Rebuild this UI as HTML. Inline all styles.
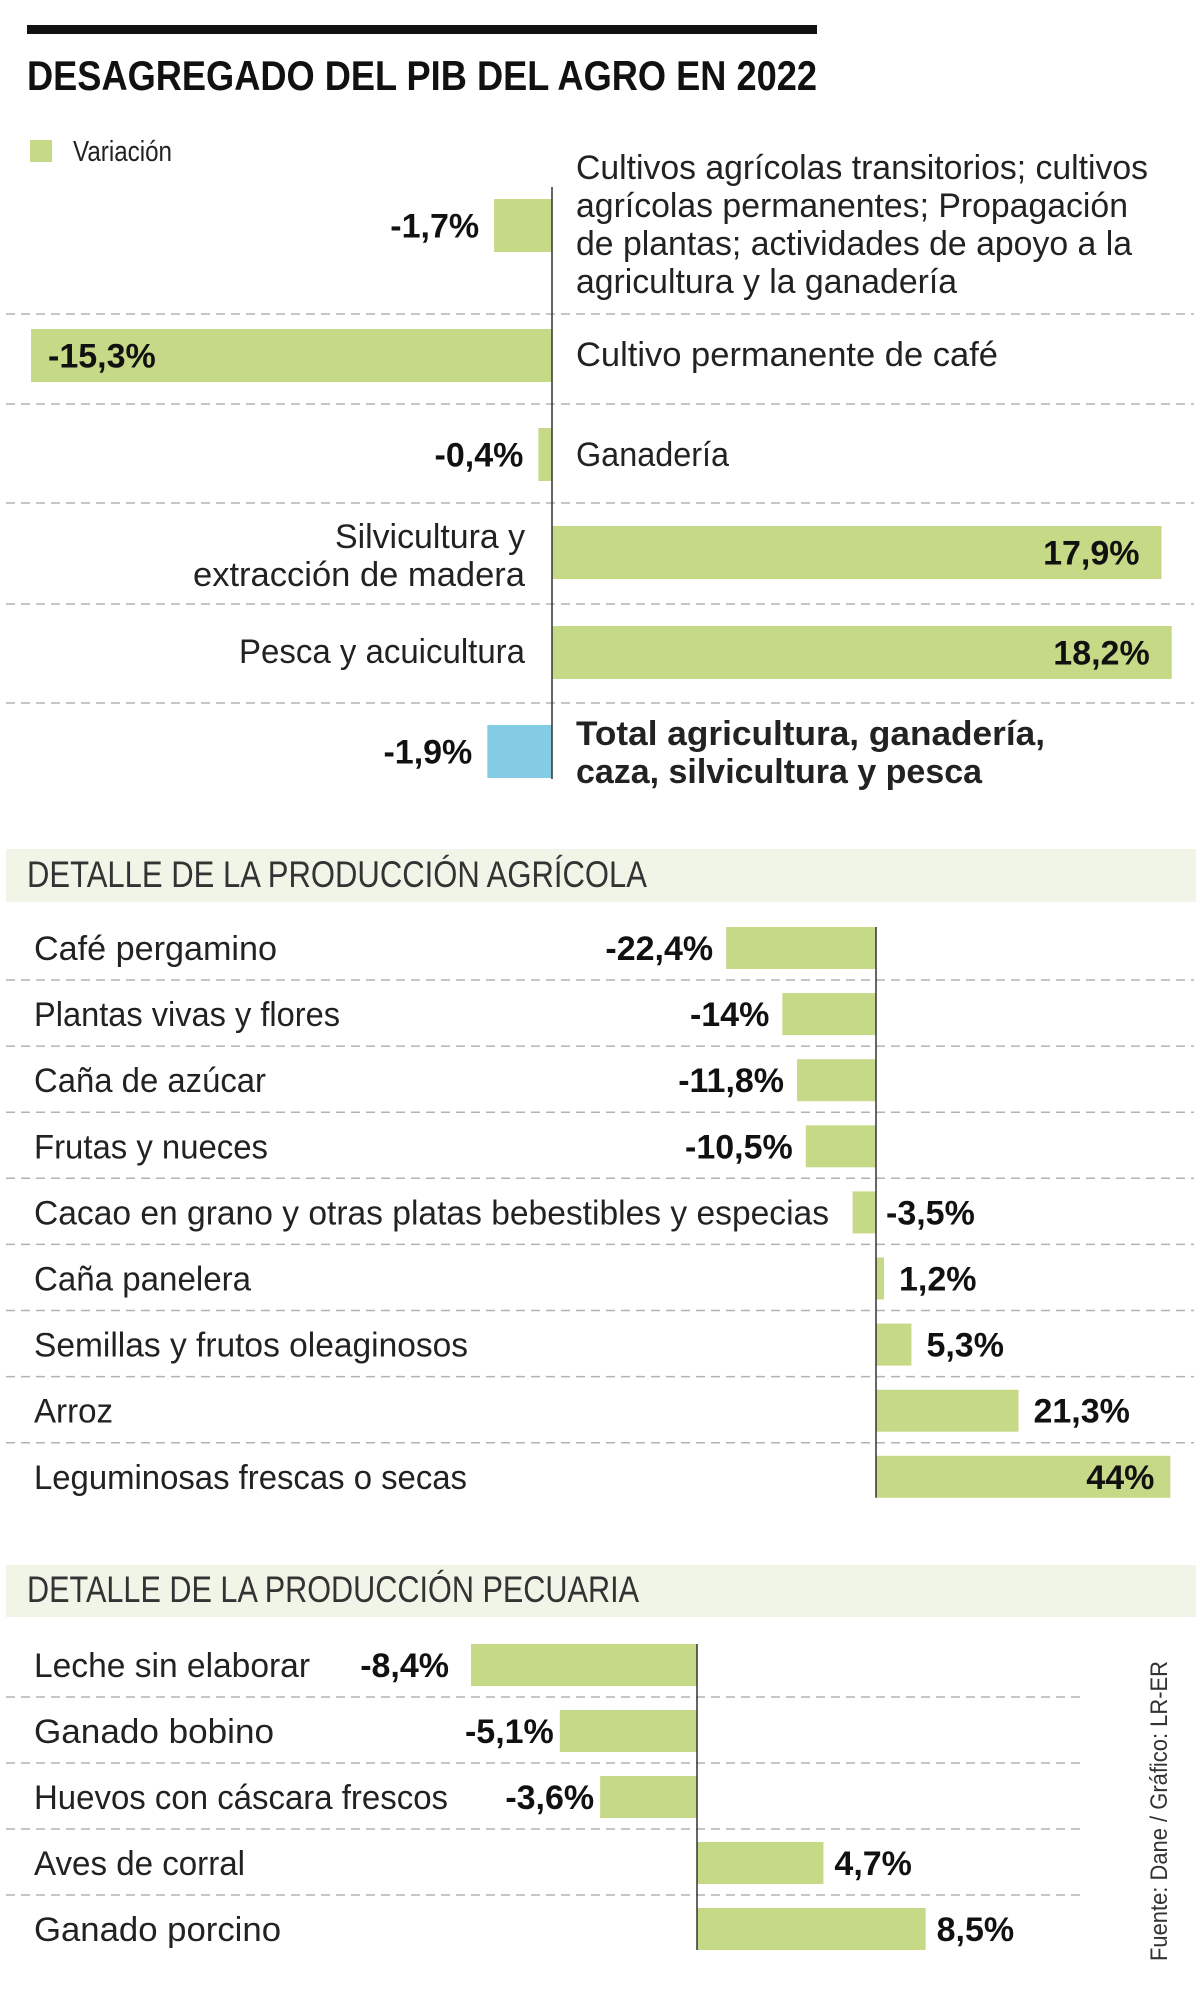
<!DOCTYPE html>
<html><head><meta charset="utf-8"><style>
html,body{margin:0;padding:0;background:#fff;}
svg{display:block;font-family:"Liberation Sans",sans-serif;}
.lbl{font-size:34px;fill:#222;}
.val{font-size:34px;font-weight:bold;fill:#111;}
.hdr{font-size:37px;fill:#333;}
</style></head><body>
<svg id="chart" width="1200" height="1989" viewBox="0 0 1200 1989" xmlns="http://www.w3.org/2000/svg">
<rect x="27" y="25" width="790" height="9" fill="#111"/>
<text x="27" y="90" font-size="42" font-weight="bold" fill="#111" textLength="790" lengthAdjust="spacingAndGlyphs">DESAGREGADO DEL PIB DEL AGRO EN 2022</text>
<rect x="30" y="140" width="22" height="22" fill="#c6d987"/>
<text x="73" y="161" font-size="29" fill="#222" textLength="99" lengthAdjust="spacingAndGlyphs">Variación</text>
<g id="sec1"></g>
<rect x="6" y="849" width="1190" height="53" fill="#f0f5e8"/>
<text class="hdr" x="27" y="887" textLength="620" lengthAdjust="spacingAndGlyphs">DETALLE DE LA PRODUCCIÓN AGRÍCOLA</text>
<g id="sec2"></g>
<rect x="6" y="1565" width="1190" height="52" fill="#f0f5e8"/>
<text class="hdr" x="27" y="1602" textLength="612" lengthAdjust="spacingAndGlyphs">DETALLE DE LA PRODUCCIÓN PECUARIA</text>
<g id="sec3"></g>
<text transform="translate(1167,1961) rotate(-90)" font-size="24" fill="#333" textLength="300" lengthAdjust="spacingAndGlyphs">Fuente: Dane / Gráfico: LR-ER</text>
</svg>
<script>
// ---- Section 1: desagregado ----
const s1Categories = ["Cultivos agrícolas transitorios; cultivos agrícolas permanentes; Propagación de plantas; actividades de apoyo a la agricultura y la ganadería","Cultivo permanente de café","Ganadería","Silvicultura y extracción de madera","Pesca y acuicultura","Total agricultura, ganadería, caza, silvicultura y pesca"];
const s1Values = [-1.7, -15.3, -0.4, 17.9, 18.2, -1.9];
const s1Labels = ["-1,7%","-15,3%","-0,4%","17,9%","18,2%","-1,9%"];
// ---- Section 2: agrícola ----
const s2Categories = ["Café pergamino","Plantas vivas y flores","Caña de azúcar","Frutas y nueces","Cacao en grano y otras platas bebestibles y especias","Caña panelera","Semillas y frutos oleaginosos","Arroz","Leguminosas frescas o secas"];
const s2Values = [-22.4, -14, -11.8, -10.5, -3.5, 1.2, 5.3, 21.3, 44];
const s2Labels = ["-22,4%","-14%","-11,8%","-10,5%","-3,5%","1,2%","5,3%","21,3%","44%"];
// ---- Section 3: pecuaria ----
const s3Categories = ["Leche sin elaborar","Ganado bobino","Huevos con cáscara frescos","Aves de corral","Ganado porcino"];
const s3Values = [-8.4, -5.1, -3.6, 4.7, 8.5];
const s3Labels = ["-8,4%","-5,1%","-3,6%","4,7%","8,5%"];

const NS = "http://www.w3.org/2000/svg";
const GREEN = "#c6d987", BLUE = "#84cce4";
function mk(tag, parent, attrs, txt){
  const e = document.createElementNS(NS, tag);
  for (const k in attrs) e.setAttribute(k, attrs[k]);
  if (txt !== undefined) e.textContent = txt;
  parent.appendChild(e);
  return e;
}
function slug(s){return s.toLowerCase().normalize("NFD").replace(/[\u0300-\u036f]/g,"").replace(/[^a-z0-9]+/g,"-").replace(/^-|-$/g,"").split("-").slice(0,4).join("-");}
function dashed(g, y, x1, x2){
  const l = mk("line", g, {x1:x1, x2:x2, y1:y, y2:y, stroke:"#b3b3b3", "stroke-width":1.5, "stroke-dasharray":"9 6"});
  
  
}

// Section 1
(function(){
  const g = document.getElementById("sec1");
  const axis = 552, scale = 34.05;
  const x = v => axis + v*scale;
  const rowTop = [199, 329, 428, 526, 626, 725], barH = 53;
  const dashes = [314, 404, 503, 604, 703];
  dashes.forEach(y => dashed(g, y, 6, 1194));
  s1Values.forEach((v,i) => {
    const x0 = Math.min(x(0), x(v)), w = Math.abs(x(v)-x(0));
    const r = mk("rect", g, {x:x0, y:rowTop[i], width:w, height:barH, fill: i===5 ? BLUE : GREEN});
    
    
    const cy = rowTop[i] + barH/2, base = cy + 12;
    let t;
    if (v < 0 && w > 150) t = mk("text", g, {class:"val", x:x(v)+17, y:base}, s1Labels[i]);
    else if (v < 0) t = mk("text", g, {class:"val", x:x(v)-15, y:base, "text-anchor":"end"}, s1Labels[i]);
    else t = mk("text", g, {class:"val", x:x(v)-22, y:base, "text-anchor":"end"}, s1Labels[i]);
    
    
  });
  const ax = mk("line", g, {x1:axis, x2:axis, y1:187, y2:779, stroke:"#333", "stroke-width":1.5});
  
  
  const cats = [
    {lines:["Cultivos agrícolas transitorios; cultivos","agrícolas permanentes; Propagación","de plantas; actividades de apoyo a la","agricultura y la ganadería"], lens:[572,552,556,381], x:576, ys:[179,217,255,293], anchor:"start", bold:false},
    {lines:["Cultivo permanente de café"], lens:[422], x:576, ys:[366], anchor:"start"},
    {lines:["Ganadería"], lens:[153], x:576, ys:[466], anchor:"start"},
    {lines:["Silvicultura y","extracción de madera"], lens:[190,332], x:525, ys:[548,586], anchor:"end"},
    {lines:["Pesca y acuicultura"], lens:[286], x:525, ys:[663], anchor:"end"},
    {lines:["Total agricultura, ganadería,","caza, silvicultura y pesca"], lens:[469,406], x:576, ys:[745,783], anchor:"start", bold:true}
  ];
  cats.forEach((c,i) => {
    c.lines.forEach((ln,j) => {
      const t = mk("text", g, {class:"lbl", x:c.x, y:c.ys[j], "text-anchor":c.anchor, textLength:c.lens[j], lengthAdjust:"spacingAndGlyphs", "font-weight": c.bold ? "bold":"normal", fill: c.bold ? "#111":"#222"}, ln);
      
      
    });
  });
})();

// Section 2
(function(){
  const g = document.getElementById("sec2");
  const axis = 876, scale = 6.69, top0 = 927, pitch = 66.1, barH = 42;
  const x = v => axis + v*scale;
  const lens = [243,306,232,234,795,217,434,79,433];
  for (let i=0;i<s2Values.length-1;i++) dashed(g, 980 + i*pitch, 6, 1194);
  s2Values.forEach((v,i) => {
    const top = top0 + i*pitch, base = top + barH/2 + 12;
    const x0 = Math.min(x(0), x(v)), w = Math.abs(x(v)-x(0));
    const r = mk("rect", g, {x:x0, y:top, width:w, height:barH, fill:GREEN});
    
    
    const n = mk("text", g, {class:"lbl", x:34, y:base, textLength:lens[i], lengthAdjust:"spacingAndGlyphs"}, s2Categories[i]);
    
    
    let t;
    if (v < 0 && v > -5) t = mk("text", g, {class:"val", x:axis+10, y:base}, s2Labels[i]);
    else if (v < 0) t = mk("text", g, {class:"val", x:x(v)-13, y:base, "text-anchor":"end"}, s2Labels[i]);
    else if (v > 40) t = mk("text", g, {class:"val", x:x(v)-16, y:base, "text-anchor":"end"}, s2Labels[i]);
    else t = mk("text", g, {class:"val", x:x(v)+15, y:base}, s2Labels[i]);
    
    
  });
  const ax = mk("line", g, {x1:axis, x2:axis, y1:top0, y2:top0+(s2Values.length-1)*pitch+barH, stroke:"#333", "stroke-width":1.5});
  
  
})();

// Section 3
(function(){
  const g = document.getElementById("sec3");
  const axis = 697, scale = 26.9, top0 = 1644, pitch = 66, barH = 42;
  const x = v => axis + v*scale;
  const lens = [276,240,414,211,247];
  for (let i=0;i<s3Values.length-1;i++) dashed(g, 1697 + i*pitch, 6, 1086);
  s3Values.forEach((v,i) => {
    const top = top0 + i*pitch, base = top + barH/2 + 12;
    const x0 = Math.min(x(0), x(v)), w = Math.abs(x(v)-x(0));
    const r = mk("rect", g, {x:x0, y:top, width:w, height:barH, fill:GREEN});
    
    
    const n = mk("text", g, {class:"lbl", x:34, y:base, textLength:lens[i], lengthAdjust:"spacingAndGlyphs"}, s3Categories[i]);
    
    
    let t;
    if (v < 0) t = mk("text", g, {class:"val", x:x(v)-(v < -8 ? 22 : 6), y:base, "text-anchor":"end"}, s3Labels[i]);
    else t = mk("text", g, {class:"val", x:x(v)+11, y:base}, s3Labels[i]);
    
    
  });
  const ax = mk("line", g, {x1:axis, x2:axis, y1:top0, y2:top0+(s3Values.length-1)*pitch+barH, stroke:"#333", "stroke-width":1.5});
  
  
})();
</script>
</body></html>
